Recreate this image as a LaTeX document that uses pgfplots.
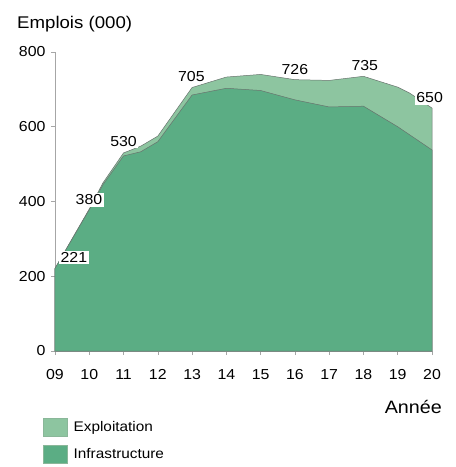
\documentclass[border=0pt]{standalone}
\usepackage{pgfplots}
\pgfplotsset{compat=1.18}
\usepackage{fontspec}
\setmainfont[FakeStretch=1.1]{Liberation Sans}
\definecolor{darkg}{RGB}{91,173,132}
\definecolor{lightg}{RGB}{141,197,160}
\definecolor{edge}{RGB}{105,115,110}
\begin{document}
\begin{tikzpicture}
\path[use as bounding box] (-55bp,-116bp) rectangle (401bp,351bp);
\begin{axis}[at={(0,0)}, anchor=south west, scale only axis,
  width=377bp, height=299bp,
  xmin=9, xmax=20, ymin=0, ymax=800,
  axis lines=left, axis line style={-, draw=gray!70, line width=0.6pt},
  tick style={draw=gray!70, line width=0.6pt}, tick align=outside, major tick length=4bp,
  xtick={9,...,20}, xticklabels={09,10,11,12,13,14,15,16,17,18,19,20},
  ytick={0,200,400,600,800},
  ticklabel style={font=\fontsize{14.5}{16}\selectfont},
  xticklabel style={yshift=-11bp},
  yticklabel style={xshift=-2bp},
  /pgf/number format/assume math mode=true,
  clip=false,
  legend cell align=left,
  legend style={draw=none, fill=none, at={(-0.032,-0.222)}, anchor=north west,
    inner sep=0pt, row sep=9bp, font=\fontsize{14}{16}\selectfont,
    nodes={inner sep=1pt},
    /tikz/every odd column/.append style={column sep=5bp}},
  legend image code/.code={\fill[#1, draw=lightg!80!gray] (0bp,-9bp) rectangle (24bp,9bp);},
]
\addplot[fill=lightg, draw=edge, line width=0.5pt] table {
9 221
10 380
10.4 450
11 530
11.5 548
12 575
13 705
14 733
15 740
16 726
17 724
18 735
19 706
19.35 690
20 650
} \closedcycle;
\addlegendentry{Exploitation}
\addplot[fill=darkg, draw=edge, line width=0.5pt] table {
9 221
10 378
10.4 445
11 522
11.5 533
12 560
13 685
14 703
15 697
16 672
17 653
18 655
19 600
20 538
} \closedcycle;
\addlegendentry{Infrastructure}
\begin{scope}[every node/.style={fill=white, inner sep=1.5bp, font=\fontsize{14.5}{16}\selectfont}]
\node at (axis cs:9.55,249) {221};
\node at (axis cs:9.99,404) {380};
\node at (axis cs:11.0,560) {530};
\node at (axis cs:12.98,735) {705};
\node at (axis cs:16.0,752) {726};
\node at (axis cs:18.04,763) {735};
\node at (axis cs:19.93,677) {650};
\end{scope}
\node[anchor=base west, font=\fontsize{17}{19}\selectfont, inner sep=0pt] at ([xshift=-38bp, yshift=24bp]rel axis cs:0,1) {Emplois (000)};
\node[anchor=base east, font=\fontsize{18}{20}\selectfont, inner sep=0pt] at ([xshift=10bp, yshift=-62bp]rel axis cs:1,0) {Année};
\end{axis}
\end{tikzpicture}
\end{document}
